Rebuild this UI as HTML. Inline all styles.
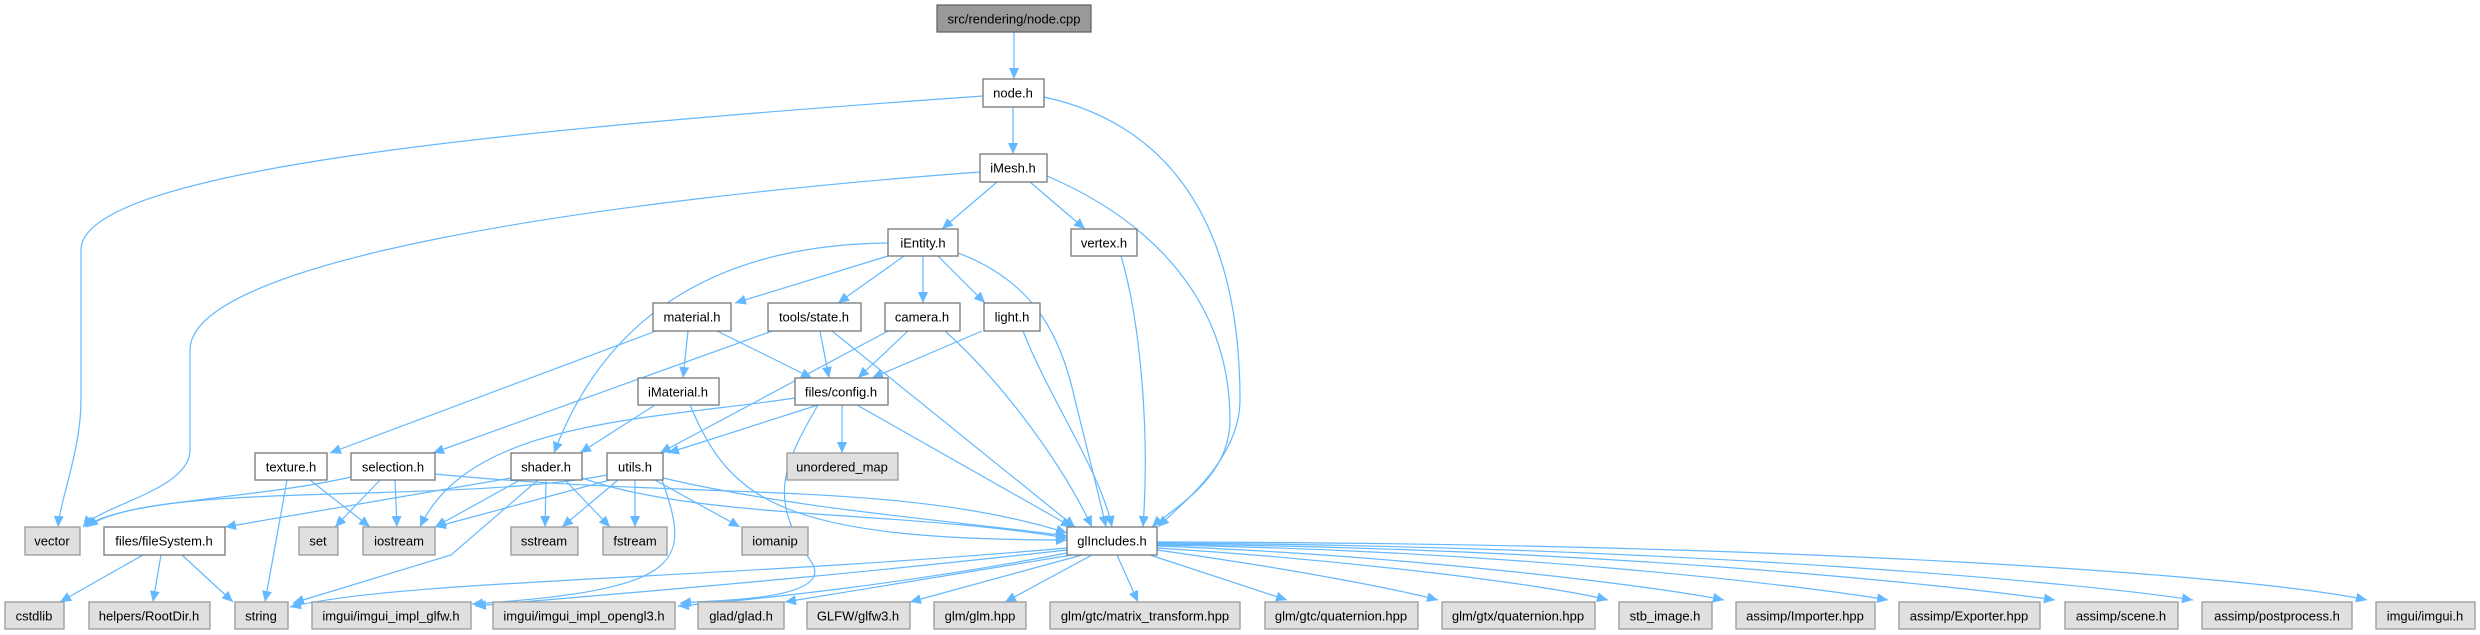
<!DOCTYPE html>
<html><head><meta charset="utf-8"><style>
html,body{margin:0;padding:0;background:#fff;}
svg{display:block}
text{font-family:"Liberation Sans",Arial,sans-serif;font-size:13px;fill:#000;text-anchor:middle;dominant-baseline:central}
.e{fill:none;stroke:#63b8ff;stroke-width:1.2;marker-end:url(#a)}
.w{fill:#fff;stroke:#777;stroke-width:1.3}
.g{fill:#e0e0e0;stroke:#999;stroke-width:1.3}
.d{fill:#999;stroke:#666;stroke-width:1.3}
</style></head><body>
<svg width="2480" height="635" viewBox="0 0 2480 635" xmlns="http://www.w3.org/2000/svg">
<defs><marker id="a" markerUnits="userSpaceOnUse" markerWidth="12" markerHeight="10" refX="11" refY="5" orient="auto"><path d="M0,0 L11,5 L0,10 z" fill="#63b8ff"/></marker></defs>
<g>
<path class="e" d="M1014,32 L1014,79"/>
<path class="e" d="M1013,107 L1013,154"/>
<path class="e" d="M983,96 C500,130 81,170 81,250 L81,400 C81,450 60,500 58,527"/>
<path class="e" d="M1044,97 C1150,120 1240,200 1240,400 C1240,460 1180,505 1158,527"/>
<path class="e" d="M980,172 C600,200 190,260 190,350 L190,450 C190,490 100,505 83,527"/>
<path class="e" d="M1047,176 C1150,220 1230,300 1230,420 C1230,480 1170,510 1152,527"/>
<path class="e" d="M997,182 L942,229"/>
<path class="e" d="M1030,182 L1085,229"/>
<path class="e" d="M1121,256 C1140,320 1150,430 1143,527"/>
<path class="e" d="M888,256 L735,303"/>
<path class="e" d="M904,256 L838,303"/>
<path class="e" d="M923,256 L923,303"/>
<path class="e" d="M938,256 L985,303"/>
<path class="e" d="M888,243 C700,245 600,330 554,453"/>
<path class="e" d="M958,253 C1030,280 1060,330 1075,400 C1090,460 1100,500 1106,527"/>
<path class="e" d="M688,331 L683,378"/>
<path class="e" d="M717,331 L812,378"/>
<path class="e" d="M656,331 L330,453"/>
<path class="e" d="M820,331 L829,378"/>
<path class="e" d="M772,331 L433,453"/>
<path class="e" d="M832,331 L1075,527"/>
<path class="e" d="M908,331 L858,378"/>
<path class="e" d="M888,331 L660,453"/>
<path class="e" d="M945,331 C1000,380 1060,460 1092,527"/>
<path class="e" d="M982,331 L872,378"/>
<path class="e" d="M1023,331 C1050,400 1100,470 1112,527"/>
<path class="e" d="M655,405 L580,453"/>
<path class="e" d="M690,405 C730,500 780,540 1067,540"/>
<path class="e" d="M795,398 C650,420 470,420 420,527"/>
<path class="e" d="M818,405 L668,453"/>
<path class="e" d="M842,405 L842,453"/>
<path class="e" d="M857,405 L1072,527"/>
<path class="e" d="M818,405 C780,470 770,500 810,560 C840,600 720,600 680,603"/>
<path class="e" d="M310,480 L370,527"/>
<path class="e" d="M287,480 L265,602"/>
<path class="e" d="M351,477 C250,500 120,500 85,527"/>
<path class="e" d="M380,480 L335,527"/>
<path class="e" d="M395,480 L397,527"/>
<path class="e" d="M435,474 C700,500 900,480 1067,533"/>
<path class="e" d="M511,478 L225,527"/>
<path class="e" d="M520,480 L435,527"/>
<path class="e" d="M546,480 L545,527"/>
<path class="e" d="M565,480 L610,527"/>
<path class="e" d="M538,480 L451,555 L293,603"/>
<path class="e" d="M582,478 C700,520 900,510 1067,538"/>
<path class="e" d="M607,475 C450,505 150,480 87,527"/>
<path class="e" d="M610,480 L435,527"/>
<path class="e" d="M618,480 L562,527"/>
<path class="e" d="M635,480 L635,527"/>
<path class="e" d="M655,480 L740,527"/>
<path class="e" d="M662,480 C690,560 690,590 472,604"/>
<path class="e" d="M663,478 C800,510 950,520 1067,536"/>
<path class="e" d="M143,555 L60,602"/>
<path class="e" d="M161,555 L153,602"/>
<path class="e" d="M182,555 L233,602"/>
<path class="e" d="M1067,548 C700,580 400,580 290,607"/>
<path class="e" d="M1067,550 C800,580 600,595 475,606"/>
<path class="e" d="M1067,553 C900,585 750,600 678,606"/>
<path class="e" d="M1072,555 L785,602"/>
<path class="e" d="M1082,555 L910,602"/>
<path class="e" d="M1092,555 L1005,602"/>
<path class="e" d="M1117,555 L1138,602"/>
<path class="e" d="M1150,555 L1287,600"/>
<path class="e" d="M1157,550 C1300,570 1400,590 1438,600"/>
<path class="e" d="M1157,548 C1350,560 1550,585 1608,600"/>
<path class="e" d="M1157,546 C1400,555 1650,585 1724,600"/>
<path class="e" d="M1157,545 C1500,550 1800,585 1888,600"/>
<path class="e" d="M1157,544 C1600,548 1950,585 2055,600"/>
<path class="e" d="M1157,543 C1700,546 2100,585 2193,600"/>
<path class="e" d="M1157,542 C1800,543 2250,575 2367,600"/>
</g>
<g>
<rect class="d" x="937" y="5" width="154" height="27"/><text x="1014" y="19">src/rendering/node.cpp</text>
<rect class="w" x="983" y="79" width="61" height="28"/><text x="1013" y="93">node.h</text>
<rect class="w" x="980" y="154" width="67" height="28"/><text x="1013" y="168">iMesh.h</text>
<rect class="w" x="888" y="229" width="70" height="27"/><text x="923" y="243">iEntity.h</text>
<rect class="w" x="1071" y="229" width="66" height="27"/><text x="1104" y="243">vertex.h</text>
<rect class="w" x="653" y="303" width="78" height="28"/><text x="692" y="317">material.h</text>
<rect class="w" x="768" y="303" width="93" height="28"/><text x="814" y="317">tools/state.h</text>
<rect class="w" x="885" y="303" width="75" height="28"/><text x="922" y="317">camera.h</text>
<rect class="w" x="984" y="303" width="56" height="28"/><text x="1012" y="317">light.h</text>
<rect class="w" x="638" y="378" width="81" height="27"/><text x="678" y="392">iMaterial.h</text>
<rect class="w" x="795" y="378" width="93" height="27"/><text x="841" y="392">files/config.h</text>
<rect class="w" x="255" y="453" width="72" height="27"/><text x="291" y="467">texture.h</text>
<rect class="w" x="351" y="453" width="84" height="27"/><text x="393" y="467">selection.h</text>
<rect class="w" x="511" y="453" width="71" height="27"/><text x="546" y="467">shader.h</text>
<rect class="w" x="607" y="453" width="56" height="27"/><text x="635" y="467">utils.h</text>
<rect class="g" x="787" y="453" width="111" height="27"/><text x="842" y="467">unordered_map</text>
<rect class="g" x="25" y="527" width="55" height="28"/><text x="52" y="541">vector</text>
<rect class="w" x="104" y="527" width="121" height="28"/><text x="164" y="541">files/fileSystem.h</text>
<rect class="g" x="299" y="527" width="39" height="28"/><text x="318" y="541">set</text>
<rect class="g" x="363" y="527" width="72" height="28"/><text x="399" y="541">iostream</text>
<rect class="g" x="511" y="527" width="67" height="28"/><text x="544" y="541">sstream</text>
<rect class="g" x="603" y="527" width="64" height="28"/><text x="635" y="541">fstream</text>
<rect class="g" x="742" y="527" width="66" height="28"/><text x="775" y="541">iomanip</text>
<rect class="w" x="1067" y="527" width="90" height="28"/><text x="1112" y="541">glIncludes.h</text>
<rect class="g" x="5" y="602" width="59" height="27"/><text x="34" y="616">cstdlib</text>
<rect class="g" x="89" y="602" width="121" height="27"/><text x="149" y="616">helpers/RootDir.h</text>
<rect class="g" x="235" y="602" width="53" height="27"/><text x="261" y="616">string</text>
<rect class="g" x="312" y="602" width="159" height="27"/><text x="391" y="616">imgui/imgui_impl_glfw.h</text>
<rect class="g" x="493" y="602" width="182" height="27"/><text x="584" y="616">imgui/imgui_impl_opengl3.h</text>
<rect class="g" x="698" y="602" width="86" height="27"/><text x="741" y="616">glad/glad.h</text>
<rect class="g" x="807" y="602" width="103" height="27"/><text x="858" y="616">GLFW/glfw3.h</text>
<rect class="g" x="934" y="602" width="92" height="27"/><text x="980" y="616">glm/glm.hpp</text>
<rect class="g" x="1050" y="602" width="190" height="27"/><text x="1145" y="616">glm/gtc/matrix_transform.hpp</text>
<rect class="g" x="1265" y="602" width="153" height="27"/><text x="1341" y="616">glm/gtc/quaternion.hpp</text>
<rect class="g" x="1442" y="602" width="153" height="27"/><text x="1518" y="616">glm/gtx/quaternion.hpp</text>
<rect class="g" x="1619" y="602" width="93" height="27"/><text x="1665" y="616">stb_image.h</text>
<rect class="g" x="1736" y="602" width="139" height="27"/><text x="1805" y="616">assimp/Importer.hpp</text>
<rect class="g" x="1899" y="602" width="141" height="27"/><text x="1969" y="616">assimp/Exporter.hpp</text>
<rect class="g" x="2065" y="602" width="113" height="27"/><text x="2121" y="616">assimp/scene.h</text>
<rect class="g" x="2202" y="602" width="150" height="27"/><text x="2277" y="616">assimp/postprocess.h</text>
<rect class="g" x="2376" y="602" width="99" height="27"/><text x="2425" y="616">imgui/imgui.h</text>
</g>
</svg>
</body></html>
